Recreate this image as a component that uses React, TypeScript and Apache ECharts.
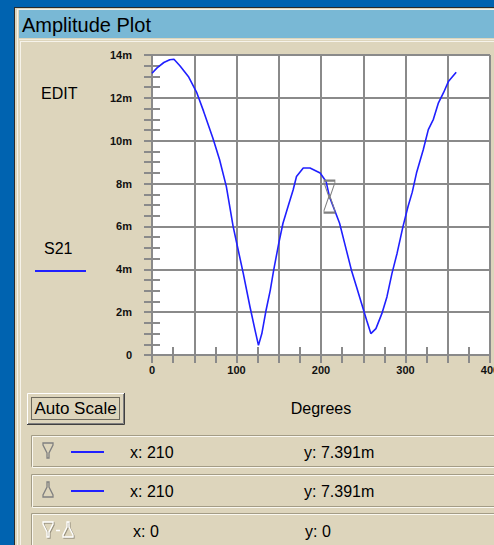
import React, { useEffect, useRef } from "react";
import * as echarts from "echarts";

const degrees = [0, 6, 14, 21, 26, 33, 43, 53, 61, 72, 80, 88, 96, 102, 108, 116, 122, 126, 130, 135, 140, 144, 150, 155, 161, 167, 171, 179, 187, 199, 206, 210, 222, 228, 236, 242, 248, 254, 259, 265, 272, 278, 284, 290, 297, 303, 308, 313, 321, 327, 333, 339, 345, 351, 360];
const s21 = [13.15, 13.4, 13.65, 13.78, 13.8, 13.5, 13.0, 12.24, 11.38, 10.13, 9.11, 7.86, 6.0, 4.9, 3.81, 2.24, 1.15, 0.45, 1.0, 2.09, 3.03, 3.96, 5.21, 6.15, 6.93, 7.7, 8.33, 8.73, 8.73, 8.49, 8.1, 7.391, 6.15, 5.21, 3.96, 3.18, 2.4, 1.62, 1.0, 1.23, 1.93, 2.71, 3.81, 4.74, 5.99, 6.93, 7.6, 8.49, 9.58, 10.52, 11.0, 11.77, 12.24, 12.78, 13.2];
const markerX = 210;
const markerY = 7.391;
const deltaX = 0;
const deltaY = 0;

const BEIGE = "#DDD5BC";
const GRIDC = "#8a8a8a";
const LINEC = "#2020ff";
const FONT = "Liberation Sans";

function etched(x: number, y: number, w: number, h: number) {
  return [
    { type: "rect", z: 5, shape: { x: x + 0.5, y: y + 0.5, width: w, height: h }, style: { fill: "none", stroke: "#A39C86", lineWidth: 1 } },
    { type: "rect", z: 5, shape: { x: x + 1.5, y: y + 1.5, width: w, height: h }, style: { fill: "none", stroke: "#FAF8F0", lineWidth: 1 } },
  ];
}

function downIcon(x: number, y: number, color: string) {
  return {
    type: "polygon", z: 6,
    shape: { points: [[x, y], [x + 10, y], [x + 10, y + 2], [x + 6, y + 10], [x + 6, y + 15], [x + 4, y + 15], [x + 4, y + 10], [x, y + 2]] },
    style: { fill: "none", stroke: color, lineWidth: 1.3 },
  };
}
function upIcon(x: number, y: number, color: string) {
  return {
    type: "polygon", z: 6,
    shape: { points: [[x + 4, y], [x + 6, y], [x + 6, y + 5], [x + 10, y + 13], [x + 10, y + 15], [x, y + 15], [x, y + 13], [x + 4, y + 5]] },
    style: { fill: "none", stroke: color, lineWidth: 1.3 },
  };
}

function txt(x: number, y: number, text: string, size: number, align = "left", extra: any = {}) {
  return {
    type: "text", z: 7, x, y,
    style: { text, fontSize: size, fontFamily: FONT, fill: "#000", textAlign: align, textVerticalAlign: "middle", ...extra },
  };
}

export default function App() {
  const ref = useRef<HTMLDivElement>(null);
  useEffect(() => {
    if (!ref.current) return;
    const chart = echarts.init(ref.current, undefined, { renderer: "svg" });
    const data = degrees.map((d, i) => [d, s21[i]]);
    const axisCommon = {
      axisLine: { show: true, lineStyle: { color: GRIDC, width: 2 } },
      axisTick: { show: true, inside: true, length: 8, lineStyle: { color: GRIDC, width: 2 } },
      minorTick: { show: true, length: 8, lineStyle: { color: GRIDC, width: 2 } },
    };
    const labelStyle = { fontFamily: FONT, fontSize: 11, fontWeight: "bold", color: "#111" };
    const option: any = {
      animation: false,
      backgroundColor: "#0063B0",
      grid: {
        left: 152, top: 55, width: 338, height: 300, show: true,
        backgroundColor: "#ffffff", borderWidth: 0,
        outerBoundsMode: "none", containLabel: false,
      },
      xAxis: [
        {
          type: "value", min: 0, max: 400, interval: 50, position: "bottom",
          ...axisCommon,
          minorTick: { ...axisCommon.minorTick, splitNumber: 2 },
          splitLine: { show: true, lineStyle: { color: GRIDC, width: 2 } },
          axisLabel: { ...labelStyle, margin: 9, showMaxLabel: true, formatter: (v: number) => (v % 100 === 0 ? String(v) : "") },
          name: "Degrees", nameLocation: "middle", nameGap: 45,
          nameTextStyle: { fontFamily: FONT, fontSize: 16, color: "#000" },
        },
        {
          type: "value", min: 0, max: 400, interval: 50, position: "top",
          ...axisCommon,
          minorTick: { ...axisCommon.minorTick, splitNumber: 2 },
          splitLine: { show: false }, axisLabel: { show: false },
        },
      ],
      yAxis: [
        {
          type: "value", min: 0, max: 14, interval: 2, position: "left",
          ...axisCommon,
          minorTick: { ...axisCommon.minorTick, splitNumber: 4 },
          splitLine: { show: true, lineStyle: { color: GRIDC, width: 2 } },
          axisLabel: { ...labelStyle, margin: 20, formatter: (v: number) => (v === 0 ? "0" : v + "m") },
        },
        {
          type: "value", min: 0, max: 14, interval: 2, position: "right",
          ...axisCommon,
          minorTick: { ...axisCommon.minorTick, splitNumber: 4 },
          splitLine: { show: false }, axisLabel: { show: false },
        },
      ],
      series: [
        {
          type: "line", name: "S21", data, xAxisIndex: 0, yAxisIndex: 0,
          showSymbol: false, lineStyle: { color: LINEC, width: 1.6 }, z: 3,
          markPoint: {
            symbol: "path://M0,0L11,0L11,2L6.5,15L4.5,15L0,2Z M4.5,17L6.5,17L11,30L11,32L0,32L0,30Z",
            symbolSize: [11, 32],
            itemStyle: { color: "transparent", borderColor: "#808080", borderWidth: 1.3 },
            label: { show: false },
            data: [{ coord: [markerX, markerY] }],
          },
        },
      ],
      graphic: {
        elements: [
          { type: "rect", z: -5, shape: { x: 14, y: 7, width: 480, height: 538 }, style: { fill: "#2a2a2a" } },
          { type: "rect", z: -5, shape: { x: 15, y: 8, width: 479, height: 537 }, style: { fill: BEIGE } },
          { type: "rect", z: -5, shape: { x: 17, y: 9, width: 477, height: 1 }, style: { fill: "#F4F2EA" } },
          { type: "rect", z: -5, shape: { x: 17, y: 9, width: 1, height: 536 }, style: { fill: "#F4F2EA" } },
          { type: "rect", z: -5, shape: { x: 19, y: 10, width: 475, height: 28 }, style: { fill: "#79B8D5" } },
          { type: "rect", z: -5, shape: { x: 19, y: 39, width: 475, height: 1 }, style: { fill: "#EEEADC" } },
          { type: "rect", z: -5, shape: { x: 20, y: 41, width: 474, height: 1 }, style: { fill: "#F6F3EA" } },
          { type: "rect", z: -5, shape: { x: 20, y: 41, width: 1, height: 504 }, style: { fill: "#F6F3EA" } },
          txt(22, 25, "Amplitude Plot", 20),
          txt(41, 93, "EDIT", 16),
          txt(44, 248, "S21", 16),
          { type: "line", z: 6, shape: { x1: 35, y1: 271, x2: 86, y2: 271 }, style: { stroke: LINEC, lineWidth: 2 } },
          // Auto Scale button
          { type: "rect", z: 5, shape: { x: 27, y: 393, width: 97, height: 31 }, style: { fill: BEIGE } },
          { type: "polyline", z: 6, shape: { points: [[27.5, 424], [27.5, 393.5], [124, 393.5]] }, style: { stroke: "#FFFFFF", lineWidth: 1, fill: "none" } },
          { type: "polyline", z: 6, shape: { points: [[123.5, 394], [123.5, 423.5], [28, 423.5]] }, style: { stroke: "#808080", lineWidth: 1, fill: "none" } },
          { type: "polyline", z: 6, shape: { points: [[124.5, 393], [124.5, 424.5], [27, 424.5]] }, style: { stroke: "#404040", lineWidth: 1, fill: "none" } },
          { type: "rect", z: 6, shape: { x: 31.5, y: 397.5, width: 88, height: 22 }, style: { fill: "none", stroke: "#000", lineWidth: 1, lineDash: [1, 1] } },
          txt(75.5, 408.5, "Auto Scale", 17, "center"),
          // readout rows
          ...etched(31, 435, 470, 31),
          ...etched(31, 474, 470, 32),
          ...etched(31, 513, 470, 40),
          downIcon(43, 443, "#808080"),
          { type: "line", z: 6, shape: { x1: 71, y1: 452, x2: 104, y2: 452 }, style: { stroke: LINEC, lineWidth: 2 } },
          txt(130, 452, `x: ${markerX}`, 16),
          txt(304, 452, `y: ${markerY}m`, 16),
          upIcon(43, 482, "#808080"),
          { type: "line", z: 6, shape: { x1: 71, y1: 491, x2: 104, y2: 491 }, style: { stroke: LINEC, lineWidth: 2 } },
          txt(130, 491, `x: ${markerX}`, 16),
          txt(304, 491, `y: ${markerY}m`, 16),
          downIcon(44, 523, "#9a9482"),
          downIcon(43, 522, "#FFFFFF"),
          { type: "line", z: 6, shape: { x1: 56, y1: 530.5, x2: 60, y2: 530.5 }, style: { stroke: "#FFFFFF", lineWidth: 1.5 } },
          upIcon(64, 523, "#9a9482"),
          upIcon(63, 522, "#FFFFFF"),
          txt(133, 531, `x: ${deltaX}`, 16),
          txt(305, 531, `y: ${deltaY}`, 16),
        ],
      },
    };
    chart.setOption(option);
    return () => chart.dispose();
  }, []);
  return <div ref={ref} style={{ position: "fixed", left: 0, top: 0, width: 494, height: 545 }} />;
}
